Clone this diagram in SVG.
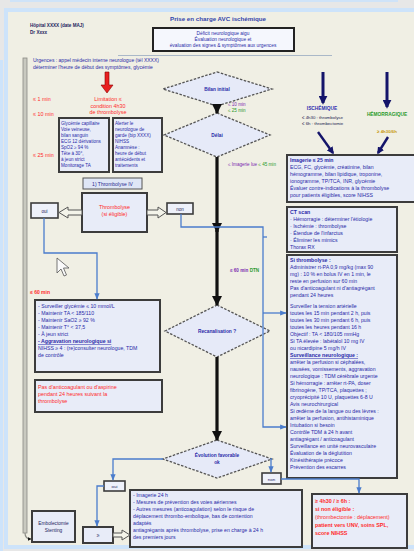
<svg xmlns="http://www.w3.org/2000/svg" width="414" height="551" viewBox="0 0 414 551">
  <defs>
    <style>
      text { font-family: "Liberation Sans", Arial, sans-serif; }
      .box { fill: #e8ecf8; stroke: #3c3c3c; stroke-width: 2; }
      .tag { fill: #eef1fa; stroke: #3c3c3c; stroke-width: 1.6; }
      .dia { fill: #e6eaf8; stroke: #555; stroke-width: 1.3; stroke-dasharray: 2.5 1.5; }
      .flow { stroke: #111; stroke-width: 3.2; fill: none; }
      .link { stroke: #4a7ccc; stroke-width: 1.3; fill: none; }
      .hollow { fill: #f4f4ea; stroke: #555; stroke-width: 1; }
      .t { font-size: 5.2px; fill: #2a2aa8; }
      .tb { font-size: 5.2px; fill: #2a2aa8; font-weight: bold; }
      .r { font-size: 5.4px; fill: #ff2a2a; }
      .dk { font-size: 5.2px; fill: #1e1e60; }
      .c { text-anchor: middle; }
    </style>
    <marker id="ah" viewBox="0 0 10 10" refX="9" refY="5" markerWidth="3.2" markerHeight="3.2" orient="auto">
      <path d="M0,0 L10,5 L0,10 z" fill="#111"/>
    </marker>
    <marker id="ab" viewBox="0 0 10 10" refX="9" refY="5" markerWidth="5" markerHeight="5" orient="auto">
      <path d="M0,1 L10,5 L0,9 z" fill="#4a7ccc"/>
    </marker>
    <marker id="an" viewBox="0 0 10 10" refX="8" refY="5" markerWidth="3" markerHeight="3" orient="auto">
      <path d="M0,0 L10,5 L0,10 z" fill="#14146a"/>
    </marker>
  </defs>

  <!-- page -->
  <rect x="0" y="0" width="414" height="551" fill="#e7e7e7"/>
  <rect x="10" y="0" width="388" height="2" fill="#cfe3f8"/>
  <rect x="6" y="10" width="410" height="537" fill="#f0efe4" stroke="#cde3fa" stroke-width="4"/>
  <rect x="0" y="60" width="3" height="491" fill="#cde3fa"/>

  <!-- header -->
  <g id="title">
    <text x="218" y="21" class="c" style="font-size:6.2px;fill:#3344aa;font-weight:bold">Prise en charge AVC ischémique</text>
  </g>
  <g id="author">
    <text x="30" y="27" class="dk" style="font-weight:bold;font-size:4.6px">Hôpital XXXX (date MAJ)</text>
    <text x="30" y="33.5" class="dk" style="font-weight:bold;font-size:4.6px">Dr Xxxx</text>
  </g>
  <g id="entry">
    <rect x="153" y="28" width="141" height="23" fill="#f5f7fd" stroke="#222" stroke-width="2"/>
    <text x="223" y="34.5" class="t c" style="font-size:4.8px">Déficit neurologique aigu</text>
    <text x="223" y="40.5" class="t c" style="font-size:4.8px">Évaluation neurologique et</text>
    <text x="223" y="46.5" class="t c" style="font-size:4.8px">évaluation des signes &amp; symptômes aux urgences</text>
  </g>
  <line x1="118" y1="55.5" x2="332" y2="55.5" stroke="#aab8c8" stroke-width="1"/>
  <g id="call">
    <text x="33" y="62" class="t" style="font-size:5px">Urgences : appel médecin interne neurologue (tél XXXX)</text>
    <text x="33" y="69" class="t" style="font-size:5px">déterminer l'heure de début des symptômes, glycémie</text>
  </g>

  <!-- left time rail -->
  <g id="rail">
    <rect x="23" y="58" width="4" height="475" fill="#c9c9c0" stroke="#8a8a84" stroke-width="0.8"/>
    <path d="M25,533 Q25,539 31,539" stroke="#8a8a84" stroke-width="1.2" fill="none" marker-end="url(#ah)"/>
  </g>

  <!-- time labels -->
  <g id="times">
    <text x="33" y="101" class="r">≤ 1 min</text>
    <text x="33" y="116" class="r">≤ 10 min</text>
    <text x="33" y="157" class="r">≤ 25 min</text>
    <text x="30" y="294" class="r" style="font-weight:bold;font-size:5px">≤ 60 min</text>
  </g>

  <!-- red limit -->
  <g id="limit">
    <path d="M105,72 h4 v13 h4 l-6,8 l-6,-8 h4 z" fill="#e82020" stroke="#8a0000" stroke-width="0.6"/>
    <text x="108" y="101" class="r c">Limitation ≤</text>
    <text x="108" y="107.5" class="r c">condition 4h30</text>
    <text x="108" y="114" class="r c">de thrombolyse</text>
  </g>

  <!-- first-line boxes -->
  <g id="box-care">
    <rect x="59" y="118" width="50" height="54" class="box"/>
    <text x="61" y="125" class="t" style="font-size:4.6px">Glycémie capillaire</text>
    <text x="61" y="131" class="t" style="font-size:4.6px">Voie veineuse,</text>
    <text x="61" y="137" class="t" style="font-size:4.6px">bilan sanguin</text>
    <text x="61" y="143" class="t" style="font-size:4.6px">ECG 12 dérivations</text>
    <text x="61" y="149" class="t" style="font-size:4.6px">SpO2 ≥ 94 %</text>
    <text x="61" y="155" class="t" style="font-size:4.6px">Tête à 30°,</text>
    <text x="61" y="161" class="t" style="font-size:4.6px">à jeun strict</text>
    <text x="61" y="167" class="t" style="font-size:4.6px">Monitorage TA</text>
  </g>
  <g id="box-neuro">
    <rect x="113" y="118" width="49" height="54" class="box"/>
    <text x="115" y="125" class="t" style="font-size:4.6px">Alerter le</text>
    <text x="115" y="131" class="t" style="font-size:4.6px">neurologue de</text>
    <text x="115" y="137" class="t" style="font-size:4.6px">garde (bip XXXX)</text>
    <text x="115" y="143" class="t" style="font-size:4.6px">NIHSS</text>
    <text x="115" y="149" class="t" style="font-size:4.6px">Anamnèse :</text>
    <text x="115" y="155" class="t" style="font-size:4.6px">heure de début</text>
    <text x="115" y="161" class="t" style="font-size:4.6px">antécédents et</text>
    <text x="115" y="167" class="t" style="font-size:4.6px">traitements</text>
  </g>

  <!-- decision diamonds -->
  <g id="d-start">
    <polygon points="217,72 272,89 217,106 163,89" class="dia"/>
    <text x="217" y="91" class="t c" style="font-size:4.8px;font-weight:bold">Bilan initial</text>
  </g>
  <g id="d-delay">
    <polygon points="217,113 270,135 217,157 164,135" class="dia"/>
    <text x="217" y="137" class="t c" style="font-size:4.8px;font-weight:bold">Délai</text>
  </g>
  <g id="d-recan">
    <polygon points="217,305 270,331 217,357 165,331" class="dia"/>
    <text x="217" y="333" class="t c" style="font-size:4.8px;font-weight:bold">Recanalisation ?</text>
  </g>
  <g id="d-eval">
    <polygon points="217,440 272,459 217,478 163,459" class="dia"/>
    <text x="217" y="457" class="t c" style="font-size:4.8px;font-weight:bold">Évolution favorable</text>
    <text x="217" y="464" class="t c" style="font-size:4.8px;font-weight:bold">ok</text>
  </g>

  <!-- side timing labels -->
  <g id="lbl-1">
    <text x="228" y="106" style="font-size:4.6px;fill:#7a2ab0">≤ 10 min</text>
    <text x="228" y="112" style="font-size:4.6px;fill:#2a9a2a">≤ 25 min</text>
  </g>
  <g id="lbl-2">
    <text x="228" y="166" style="font-size:4.6px"><tspan fill="#7a2ab0">≤ Imagerie lue </tspan><tspan fill="#2a9a2a">≤ 45 min</tspan></text>
  </g>
  <g id="lbl-3">
    <text x="230" y="272" style="font-size:4.6px;font-weight:bold"><tspan fill="#7a2ab0">≤ 60 min </tspan><tspan fill="#2a9a2a">DTN</tspan></text>
  </g>

  <!-- subtype arrows -->
  <g id="subtype-isch">
    <line x1="323" y1="72" x2="323" y2="103" stroke="#14146a" stroke-width="3" marker-end="url(#an)"/>
    <text x="322" y="110" class="c" style="font-size:4.8px;fill:#3030b0;font-weight:bold">ISCHÉMIQUE</text>
    <text x="302" y="119" style="font-size:4.4px;fill:#1e1e50">≤ 4h30 : thrombolyse</text>
    <text x="302" y="125" style="font-size:4.4px;fill:#1e1e50">≤ 6h : thrombectomie</text>
  </g>
  <g id="subtype-hemo">
    <line x1="387" y1="72" x2="387" y2="107" stroke="#14146a" stroke-width="3" marker-end="url(#an)"/>
    <text x="387" y="116" class="c" style="font-size:4.8px;fill:#2a9a2a;font-weight:bold">HÉMORRAGIQUE</text>
    <text x="387" y="133" class="c" style="font-size:4.4px;fill:#c89a10;font-weight:bold">≥ 4h30/6h</text>
  </g>

  <!-- right-hand workup boxes -->
  <g id="box-workup">
    <rect x="287" y="155" width="128" height="47" class="box"/>
    <text x="290" y="162" class="tb">Imagerie ≤ 25 min</text>
    <text x="290" y="169" class="t">ECG, FC, glycémie, créatinine, bilan</text>
    <text x="290" y="176" class="t">hémogramme, bilan lipidique, troponine,</text>
    <text x="290" y="183" class="t">ionogramme, TP/TCA, INR, glycémie</text>
    <text x="290" y="190" class="t">Évaluer contre-indications à la thrombolyse</text>
    <text x="290" y="197" class="t">pour patients éligibles, score NIHSS</text>
  </g>
  <g id="box-ct">
    <rect x="287" y="207" width="110" height="45" class="box"/>
    <text x="290" y="214" class="tb">CT scan</text>
    <text x="290" y="221" class="t">· Hémorragie : déterminer l'étiologie</text>
    <text x="290" y="228" class="t">· Ischémie : thrombolyse</text>
    <text x="290" y="235" class="t">· Étendue de l'infarctus</text>
    <text x="290" y="242" class="t">· Éliminer les mimics</text>
    <text x="290" y="249" class="t">Thorax RX</text>
  </g>
  <g id="box-lysis">
    <rect x="287" y="255" width="110" height="223" class="box"/>
    <text x="290" y="262" class="tb">Si thrombolyse :</text>
    <text x="290" y="269" class="t">Administrer rt-PA 0,9 mg/kg (max 90</text>
    <text x="290" y="276" class="t">mg) : 10 % en bolus IV en 1 min, le</text>
    <text x="290" y="283" class="t">reste en perfusion sur 60 min</text>
    <text x="290" y="290" class="t">Pas d'anticoagulant ni d'antiagrégant</text>
    <text x="290" y="297" class="t">pendant 24 heures</text>
    <text x="290" y="308" class="t">Surveiller la tension artérielle</text>
    <text x="290" y="315" class="t">toutes les 15 min pendant 2 h, puis</text>
    <text x="290" y="322" class="t">toutes les 30 min pendant 6 h, puis</text>
    <text x="290" y="329" class="t">toutes les heures pendant 16 h</text>
    <text x="290" y="336" class="t">Objectif : TA &lt; 180/105 mmHg</text>
    <text x="290" y="343" class="t">Si TA élevée : labétalol 10 mg IV</text>
    <text x="290" y="350" class="t">ou nicardipine 5 mg/h IV</text>
    <text x="290" y="357" class="tb" text-decoration="underline">Surveillance neurologique :</text>
    <text x="290" y="364" class="t">arrêter la perfusion si céphalées,</text>
    <text x="290" y="371" class="t">nausées, vomissements, aggravation</text>
    <text x="290" y="378" class="t">neurologique : TDM cérébrale urgente</text>
    <text x="290" y="385" class="t">Si hémorragie : arrêter rt-PA, doser</text>
    <text x="290" y="392" class="t">fibrinogène, TP/TCA, plaquettes ;</text>
    <text x="290" y="399" class="t">cryoprécipité 10 U, plaquettes 6-8 U</text>
    <text x="290" y="406" class="t">Avis neurochirurgical</text>
    <text x="290" y="413" class="t">Si œdème de la langue ou des lèvres :</text>
    <text x="290" y="420" class="t">arrêter la perfusion, antihistaminique</text>
    <text x="290" y="427" class="t">Intubation si besoin</text>
    <text x="290" y="434" class="t">Contrôle TDM à 24 h avant</text>
    <text x="290" y="441" class="t">antiagrégant / anticoagulant</text>
    <text x="290" y="448" class="t">Surveillance en unité neurovasculaire</text>
    <text x="290" y="455" class="t">Évaluation de la déglutition</text>
    <text x="290" y="462" class="t">Kinésithérapie précoce</text>
    <text x="290" y="469" class="t">Prévention des escarres</text>
  </g>

  <!-- thrombolysis branch -->
  <g id="lysis-label">
    <rect x="83" y="178" width="59" height="11" fill="#dfe6f6" stroke="#555" stroke-width="1"/>
    <text x="112.5" y="185.5" class="c" style="font-size:5px;fill:#2a2a90">1) Thrombolyse IV</text>
  </g>
  <g id="lysis">
    <rect x="82" y="193" width="65" height="39" class="box"/>
    <text x="114.5" y="209" class="r c">Thrombolyse</text>
    <text x="114.5" y="216" class="r c">(si éligible)</text>
  </g>
  <g id="yes-1">
    <rect x="31" y="203" width="27" height="15" class="tag"/>
    <text x="44.5" y="212.5" class="dk c" style="font-size:4.6px">oui</text>
  </g>
  <g id="no-1">
    <rect x="167" y="203" width="26" height="11" class="tag"/>
    <text x="180" y="210.5" class="dk c" style="font-size:4.6px">non</text>
  </g>

  <!-- pointer -->
  <path d="M57,258 L57,273 L61,269 L64,276 L66.5,275 L63.5,268 L69,268 Z" fill="#fafafa" stroke="#555" stroke-width="0.8"/>

  <g id="box-monitor">
    <rect x="35" y="300" width="125" height="72" class="box"/>
    <text x="38" y="308" class="t">- Surveiller glycémie ≤ 10 mmol/L</text>
    <text x="38" y="315" class="t">- Maintenir TA &lt; 185/110</text>
    <text x="38" y="322" class="t">- Maintenir SaO2 ≥ 92 %</text>
    <text x="38" y="329" class="t">- Maintenir T° &lt; 37,5</text>
    <text x="38" y="336" class="t">- À jeun strict</text>
    <text x="38" y="343" class="tb" text-decoration="underline">- Aggravation neurologique si</text>
    <text x="38" y="350" class="t">NIHSS ≥ 4 : (re)consulter neurologue, TDM</text>
    <text x="38" y="357" class="t">de contrôle</text>
  </g>
  <g id="box-warning">
    <rect x="35" y="380" width="127" height="32" class="box"/>
    <text x="38" y="389" class="r">Pas d'anticoagulant ou d'aspirine</text>
    <text x="38" y="396" class="r">pendant 24 heures suivant la</text>
    <text x="38" y="403" class="r">thrombolyse</text>
  </g>

  <!-- outcome branch -->
  <g id="yes-2">
    <rect x="104" y="481" width="21" height="10" class="tag"/>
    <text x="114.5" y="488" class="dk c" style="font-size:4.4px">oui</text>
  </g>
  <g id="no-2">
    <rect x="262" y="473" width="19" height="11" class="tag"/>
    <text x="271.5" y="480.5" class="dk c" style="font-size:4.4px">non</text>
  </g>
  <g id="step-3">
    <rect x="83" y="527" width="30" height="16" class="box"/>
    <text x="98" y="537" class="dk c" style="font-size:5px">≥</text>
  </g>
  <g id="box-followup">
    <rect x="130" y="490" width="172" height="57" class="box"/>
    <text x="133" y="497" class="t">- Imagerie 24 h</text>
    <text x="133" y="504" class="t">- Mesures de prévention des voies aériennes</text>
    <text x="133" y="511" class="t">- Autres mesures (anticoagulation) selon le risque de</text>
    <text x="133" y="518" class="t">déplacement thrombo-embolique, bas de contention</text>
    <text x="133" y="525" class="t">adaptés</text>
    <text x="133" y="532" class="t">antiagrégants après thrombolyse, prise en charge à 24 h</text>
    <text x="133" y="539" class="t">des premiers jours</text>
  </g>
  <g id="box-embol">
    <rect x="32" y="511" width="43" height="31" class="box"/>
    <text x="53.5" y="525" class="dk c" style="font-size:4.8px">Embolectomie</text>
    <text x="53.5" y="532" class="dk c" style="font-size:4.8px">Stenting</text>
  </g>
  <g id="box-late">
    <rect x="312" y="494" width="95" height="54" class="box"/>
    <text x="315" y="503" class="r" style="font-weight:bold">≥ 4h30 / ≥ 6h :</text>
    <text x="315" y="511" class="r" style="font-weight:bold">si non éligible :</text>
    <text x="315" y="519" class="r">(thrombectomie : déplacement)</text>
    <text x="315" y="527" class="r" style="font-weight:bold">patient vers UNV, soins SPL,</text>
    <text x="315" y="535" class="r" style="font-weight:bold">score NIHSS</text>
  </g>

  <!-- connectors -->
  <g id="connectors">
    <line x1="217" y1="106" x2="217" y2="113" class="flow" marker-end="url(#ah)"/>
    <line x1="217" y1="157" x2="217" y2="232" class="flow" marker-end="url(#ah)"/>
    <line x1="217" y1="230" x2="217" y2="305" class="flow" marker-end="url(#ah)"/>
    <line x1="217" y1="357" x2="217" y2="440" class="flow" marker-end="url(#ah)"/>

    <line x1="318" y1="132" x2="333" y2="153" stroke="#14146a" stroke-width="2.4" marker-end="url(#an)"/>
    <line x1="388" y1="137" x2="378" y2="153" stroke="#14146a" stroke-width="2.4" marker-end="url(#an)"/>

    <!-- hollow block arrows -->
    <path d="M82,210 h-14 v-3 l-9,5.5 l9,5.5 v-3 h14 z" class="hollow"/>
    <path d="M147,210 h11 v-3 l8,5.5 l-8,5.5 v-3 h-11 z" class="hollow"/>
    <path d="M113,533 h9 v-3 l8,5 l-8,5 v-3 h-9 z" class="hollow"/>

    <!-- blue links -->
    <path d="M44,218 V253 H97 V299" class="link" marker-end="url(#ab)"/>
    <path d="M181,214 V227 H263 V427 H286" class="link" marker-end="url(#ab)"/>
    <path d="M263,237 H267" class="link"/>
    <path d="M263,313 H286" class="link" marker-end="url(#ab)"/>
    <path d="M163,459 H113 V480" class="link" marker-end="url(#ab)"/>
    <path d="M104,486 H97 V526" class="link" marker-end="url(#ab)"/>
    <path d="M272,459 H271 V472" class="link" marker-end="url(#ab)"/>
    <path d="M281,479 H359 V493" class="link" marker-end="url(#ab)"/>
  </g>
</svg>
